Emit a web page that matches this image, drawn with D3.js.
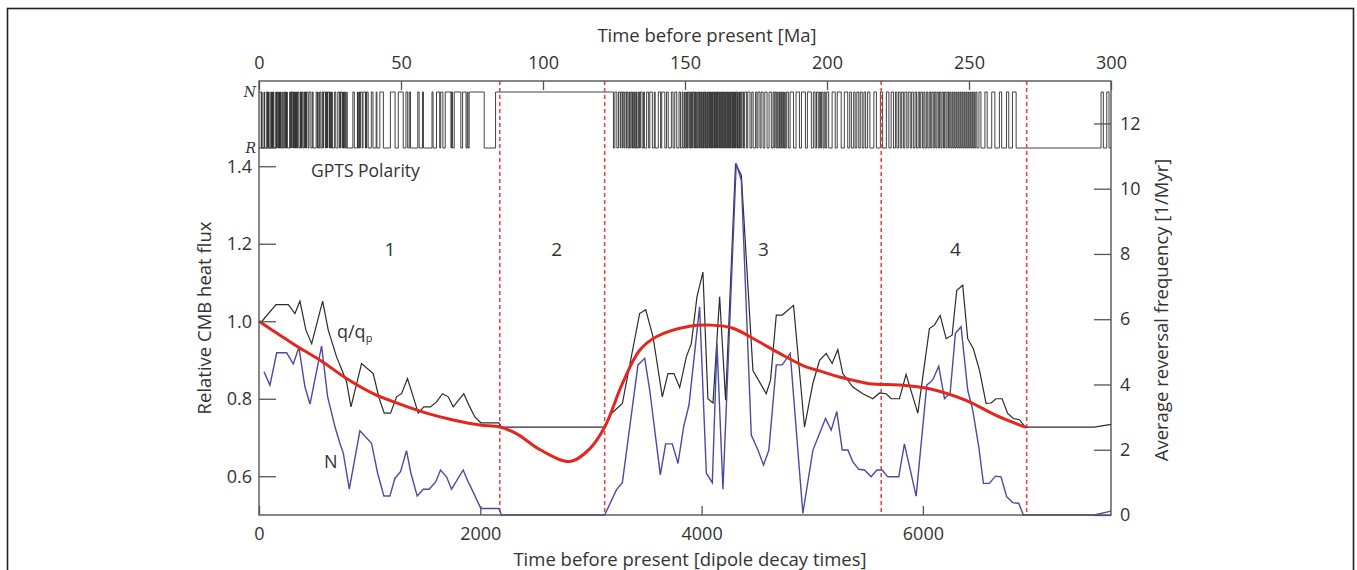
<!DOCTYPE html>
<html>
<head>
<meta charset="utf-8">
<script src="https://cdn.jsdelivr.net/npm/d3@7"></script>
<style>
  body { margin: 0; background: #fff; }
  svg text { font-family: "Open Sans", Lato, sans-serif; fill: #333; }
  .axis text { font-size: 18px; }
  .axis line { stroke: #555; stroke-width: 1.3; }
  .axis path { display: none; }
</style>
</head>
<body>
<div id="chart"></div>
<script>
// tick labels
const decayTicks = [0, 2000, 4000, 6000];
const maTicks = [0, 50, 100, 150, 200, 250, 300];
const heatTicks = [0.6, 0.8, 1.0, 1.2, 1.4];
const freqTicks = [0, 2, 4, 6, 8, 10, 12];

// period boundaries (dipole decay times) and region labels
const boundaries = [2176, 3124, 5623, 6938];
const regionNames = ["1", "2", "3", "4"];
const regionCentres = [1183, 2691, 4560, 6294];

// q/qp (black), time in dipole decay times
const qTime = [27, 154, 265, 325, 370, 424, 476, 575, 626, 701, 762, 792, 831, 927, 1032, 1087, 1132, 1189, 1243, 1288,
  1342, 1394, 1439, 1490, 1550, 1604, 1659, 1710, 1755, 1851, 1905, 1950, 2005, 2167, 2191, 3124, 3185, 3284, 3440, 3495,
  3561, 3645, 3696, 3750, 3802, 3862, 3907, 3958, 4012, 4057, 4103, 4163, 4217, 4307, 4359, 4464, 4584, 4623, 4675, 4729,
  4831, 4930, 5006, 5066, 5126, 5180, 5231, 5276, 5367, 5457, 5547, 5608, 5668, 5713, 5788, 5848, 5954, 6059, 6104, 6156,
  6210, 6264, 6306, 6360, 6405, 6456, 6511, 6571, 6616, 6661, 6716, 6766, 6818, 6872, 6926, 7549, 7700];
const qValue = [1.0, 1.043, 1.043, 1.02, 1.052, 0.977, 0.942, 1.052, 0.977, 0.908, 0.865, 0.843, 0.779, 0.891, 0.865, 0.80, 0.763, 0.763, 0.805, 0.813,
  0.852, 0.805, 0.763, 0.779, 0.779, 0.792, 0.813, 0.805, 0.779, 0.813, 0.779, 0.753, 0.738, 0.738, 0.727, 0.727, 0.762, 0.788, 1.02, 1.03,
  0.96, 0.805, 0.865, 0.865, 0.829, 0.908, 0.942, 1.063, 1.127, 0.80, 0.789, 1.063, 0.796, 1.407, 1.377, 0.873, 0.813, 0.848, 1.016, 1.016,
  1.041, 0.727, 0.84, 0.899, 0.917, 0.891, 0.927, 0.865, 0.830, 0.813, 0.80, 0.815, 0.813, 0.80, 0.80, 0.863, 0.763, 0.981, 0.990, 1.015,
  0.955, 0.964, 1.080, 1.093, 0.955, 0.929, 0.874, 0.788, 0.789, 0.80, 0.80, 0.762, 0.749, 0.746, 0.727, 0.727, 0.734];

// N, average reversal frequency [1/Myr] (blue)
const nTime = [45, 99, 160, 250, 310, 361, 415, 461, 566, 620, 686, 731, 762, 816, 912, 1017, 1072, 1129, 1183, 1228,
  1279, 1333, 1373, 1430, 1484, 1538, 1598, 1640, 1695, 1740, 1845, 1890, 1935, 2005, 2167, 2191, 3124, 3230, 3284, 3425,
  3486, 3531, 3627, 3675, 3735, 3787, 3838, 3886, 3982, 4043, 4097, 4139, 4193, 4313, 4359, 4449, 4509, 4560, 4608, 4675,
  4729, 4801, 4915, 5006, 5066, 5120, 5171, 5222, 5271, 5322, 5367, 5421, 5472, 5532, 5584, 5632, 5683, 5782, 5833, 5939,
  6035, 6089, 6143, 6195, 6246, 6294, 6345, 6405, 6450, 6505, 6547, 6601, 6655, 6706, 6757, 6811, 6866, 6908, 7549, 7700];
const nValue = [4.39, 3.98, 4.97, 4.97, 4.63, 5.14, 3.93, 3.40, 5.18, 3.63, 2.71, 2.20, 1.89, 0.79, 2.58, 2.20, 1.28, 0.58, 0.58, 1.12,
  1.33, 1.97, 1.28, 0.58, 0.79, 0.79, 1.02, 1.38, 1.17, 0.79, 1.38, 1.02, 0.71, 0.20, 0.20, 0, 0, 0.77, 0.99, 4.60,
  4.80, 3.83, 1.23, 2.18, 2.18, 1.58, 2.71, 3.37, 6.38, 1.28, 0.99, 5.26, 0.79, 10.77, 10.26, 2.45, 1.99, 1.53, 1.99, 4.60,
  4.60, 4.95, 0.05, 1.99, 2.50, 2.96, 2.60, 3.17, 1.99, 1.99, 1.63, 1.40, 1.38, 1.17, 1.38, 1.38, 1.17, 1.17, 2.18, 0.58,
  3.98, 4.14, 4.56, 3.57, 3.73, 5.57, 5.77, 3.83, 3.22, 2.09, 0.97, 0.97, 1.19, 1.17, 0.56, 0.38, 0.36, 0, 0, 0.12];

// smooth heat flux model (red)
const fitTime = [0, 190, 361, 566, 792, 1032, 1273, 1514, 1755, 1996, 2176, 2327, 2537, 2808, 2989, 3124, 3284, 3440, 3591, 3892,
  4088, 4284, 4494, 4705, 4945, 5066, 5245, 5367, 5517, 5818, 6059, 6390, 6661, 6932];
const fitValue = [1.0, 0.964, 0.932, 0.897, 0.852, 0.813, 0.786, 0.763, 0.745, 0.732, 0.727, 0.710, 0.669, 0.638, 0.671, 0.727, 0.839, 0.925, 0.96, 0.987,
  0.99, 0.982, 0.951, 0.917, 0.882, 0.872, 0.856, 0.848, 0.839, 0.835, 0.826, 0.796, 0.757, 0.726];

// GPTS polarity flips [Ma], normal polarity at 0 Ma
const polarityFlipsMa = [0.78, 0.99, 1.07, 1.77, 1.95, 2.58, 3.04, 3.11, 3.22, 3.33, 3.58, 4.18, 4.29, 4.48, 4.62, 4.80, 4.89, 4.98, 5.23,
  5.89, 6.14, 6.27, 6.57, 6.94, 7.09, 7.14, 7.17, 7.34, 7.38, 7.46, 7.65, 8.07, 8.23, 8.70, 9.03, 9.31, 9.58, 9.64, 9.74, 9.88, 9.92,
  10.83, 10.94, 11.05, 11.48, 11.53, 11.94, 12.08, 12.18, 12.40, 12.68, 12.71, 12.82, 12.99, 13.14, 13.30, 13.51, 13.70, 14.08,
  14.61, 14.80, 14.89, 15.03, 15.16, 15.55, 16.01, 16.29, 16.33, 16.49, 16.73, 17.28, 17.62, 18.28, 18.78, 19.05, 20.13, 20.52,
  20.73, 20.80, 21.32, 21.77, 22.27, 22.59, 22.69, 23.35, 23.54, 23.68, 23.80, 24.02, 24.12, 24.73, 24.78, 24.84, 25.18, 25.50,
  25.65, 25.82, 26.55, 27.03, 27.75, 28.28, 28.51, 28.75, 28.80, 29.40, 29.66, 29.77, 30.10, 30.48, 30.94, 31.02, 33.06, 33.55,
  34.66, 34.74, 34.78, 34.94, 35.34, 35.53, 35.69, 36.34, 36.62, 37.47, 37.60, 37.73, 37.92, 38.43, 39.55, 40.13, 41.26, 41.52,
  42.54, 43.79, 46.26, 47.91, 49.04, 50.78, 51.74, 52.36, 52.90, 53.35, 55.90, 56.39, 57.55, 57.91, 60.92, 61.28, 62.50, 63.63,
  63.98, 64.75, 65.58, 67.61, 67.74, 68.13, 68.74, 71.07, 71.69, 72.90, 73.30, 73.60, 74.00, 79.30, 83.30,
  124.8, 125.3, 126.0, 126.6, 127.2, 127.4, 127.9, 128.1, 128.5, 128.8, 129.3, 129.5, 129.9, 130.3, 130.5, 130.9, 131.3, 131.5,
  131.8, 132.2, 132.5, 132.9, 133.1, 133.6, 134.0, 134.3, 134.9, 135.4, 135.7, 136.5, 137.2, 137.6, 138.5, 139.2, 139.5, 140.6,
  141.4, 141.8, 142.9, 143.5, 144.1, 145.2, 145.8, 146.4, 147.1, 147.9, 148.4, 149.0, 149.3, 149.8, 150.1, 150.5, 150.8, 151.0,
  151.4, 151.7, 151.9, 152.3, 152.6, 152.8, 153.2, 153.4, 153.7, 154.1, 154.3, 154.6, 154.9, 155.1, 155.5, 155.8, 156.0, 156.3,
  156.5, 156.7, 157.0, 157.2, 157.4, 157.7, 157.9, 158.1, 158.4, 158.6, 158.8, 159.0, 159.3, 159.5, 159.7, 159.9, 160.2, 160.4,
  160.6, 160.8, 161.1, 161.3, 161.5, 161.7, 162.0, 162.2, 162.4, 162.6, 162.9, 163.1, 163.3, 163.5, 163.8, 164.0, 164.2, 164.4,
  164.7, 164.9, 165.1, 165.3, 165.6, 165.8, 166.0, 166.2, 166.5, 166.7, 166.9, 167.1, 167.4, 167.6, 167.8, 168.0, 168.3, 168.5,
  168.7, 169.0, 169.2, 169.5, 169.8, 170.1, 170.6, 171.0, 171.7, 172.1, 172.9, 173.5, 174.0, 174.8, 175.3, 175.7, 176.4, 176.8,
  177.5, 178.1, 178.9, 179.6, 180.4, 181.0, 181.4, 181.7, 182.1, 182.4, 182.7, 183.1, 183.3, 183.7, 184.0, 184.4, 184.7, 185.1,
  185.3, 185.8, 186.4, 187.0, 188.2, 189.1, 190.3, 191.0, 192.4, 193.1, 194.5, 195.2, 195.8, 196.3, 196.9, 197.3, 197.7, 198.1,
  198.6, 199.0, 199.4, 199.9, 200.6, 201.8, 202.9, 203.6, 205.0, 206.1, 207.3, 208.0, 208.6, 209.4, 209.9, 210.5, 211.2, 211.7,
  212.4, 213.0, 213.6, 214.3, 215.1, 216.5, 217.4, 218.8, 219.6, 220.9, 221.8, 222.6, 223.4, 224.1, 224.6, 225.2, 225.8, 226.3,
  226.9, 227.4, 228.1, 228.6, 229.3, 229.8, 230.4, 231.0, 231.5, 232.1, 232.6, 233.0, 233.6, 234.1, 234.5, 235.1, 235.5, 236.0,
  236.5, 236.9, 237.4, 237.8, 238.3, 238.7, 239.2, 239.6, 240.1, 240.5, 241.0, 241.4, 241.9, 242.3, 242.8, 243.2, 243.6, 244.0,
  244.3, 244.7, 245.0, 245.4, 245.7, 246.1, 246.4, 246.8, 247.1, 247.5, 247.8, 248.2, 248.5, 248.9, 249.2, 249.6, 249.9, 250.3,
  250.6, 251.0, 251.3, 251.7, 252.0, 252.4, 252.8, 253.5, 254.2, 255.6, 256.4, 258.0, 259.1, 260.7, 261.5, 263.2, 264.0, 265.3,
  266.6, 296.5, 297.3, 298.5, 299.3];

const width = 1357, height = 570;
const plot = { left: 259, right: 1111, top: 81, bottom: 515 };

const svg = d3.select("#chart").append("svg")
    .attr("width", width)
    .attr("height", height);

// outer figure frame
svg.append("rect")
    .attr("x", 7.5).attr("y", 8.5)
    .attr("width", 1346).attr("height", 580)
    .attr("fill", "none")
    .attr("stroke", "#222")
    .attr("stroke-width", 1.6);

const x = d3.scaleLinear().domain([0, 7700]).range([plot.left, plot.right]);
const xMa = d3.scaleLinear().domain([0, 300]).range([plot.left, plot.right]);
const yHeat = d3.scaleLinear().domain([0.5, 1.62]).range([plot.bottom, plot.top]);
const yFreq = d3.scaleLinear().domain([0, 13.3]).range([plot.bottom, plot.top]);
const yPol = d3.scaleOrdinal().domain(["N", "R"]).range([92, 148]);

// polarity record
let state = "N";
let polPath = `M${xMa(0)},${yPol(state)}`;
polarityFlipsMa.forEach(t => {
    state = state === "N" ? "R" : "N";
    polPath += `H${xMa(t)}V${yPol(state)}`;
});
polPath += `H${xMa(300)}`;
svg.append("path")
    .attr("d", polPath)
    .attr("fill", "none")
    .attr("stroke", "#2e2e2e")
    .attr("stroke-width", 0.9);

// dashed boundaries
svg.selectAll(".boundary")
    .data(boundaries)
    .enter()
    .append("line")
    .attr("class", "boundary")
    .attr("x1", d => x(d)).attr("x2", d => x(d))
    .attr("y1", plot.top).attr("y2", plot.bottom)
    .attr("stroke", "#e8474a")
    .attr("stroke-width", 1.6)
    .attr("stroke-dasharray", "4,3");

// data lines
const qLine = d3.line().x((d, i) => x(qTime[i])).y(d => yHeat(d));
svg.append("path")
    .attr("d", qLine(qValue))
    .attr("fill", "none")
    .attr("stroke", "#2b2b2b")
    .attr("stroke-width", 1.2);

const nLine = d3.line().x((d, i) => x(nTime[i])).y(d => yFreq(d));
svg.append("path")
    .attr("d", nLine(nValue))
    .attr("fill", "none")
    .attr("stroke", "#4b4aa6")
    .attr("stroke-width", 1.4);

const fitLine = d3.line()
    .x((d, i) => x(fitTime[i]))
    .y(d => yHeat(d))
    .curve(d3.curveCatmullRom.alpha(0.5));
svg.append("path")
    .attr("d", fitLine(fitValue))
    .attr("fill", "none")
    .attr("stroke", "#e4261c")
    .attr("stroke-width", 3);

// axes (ticks pointing inward)
const axisB = svg.append("g").attr("class", "axis")
    .attr("transform", `translate(0,${plot.bottom})`);
axisB.call(d3.axisBottom(x).tickValues(d3.range(500, 7700, 500)).tickSize(-5).tickFormat(""));
axisB.call(d3.axisBottom(x).tickValues(decayTicks).tickSize(-9).tickPadding(12).tickFormat(d3.format("d")));

const axisT = svg.append("g").attr("class", "axis")
    .attr("transform", `translate(0,${plot.top})`);
axisT.call(d3.axisTop(xMa).tickValues(d3.range(10, 300, 10)).tickSize(-5).tickFormat(""));
axisT.call(d3.axisTop(xMa).tickValues(maTicks).tickSize(-9).tickPadding(12).tickFormat(d3.format("d")));

const axisL = svg.append("g").attr("class", "axis")
    .attr("transform", `translate(${plot.left},0)`);
axisL.call(d3.axisLeft(yHeat).tickValues(d3.range(0.55, 1.46, 0.05)).tickSize(-8).tickFormat(""));
axisL.call(d3.axisLeft(yHeat).tickValues(heatTicks).tickSize(-17).tickPadding(7).tickFormat(d3.format(".1f")));

const axisR = svg.append("g").attr("class", "axis")
    .attr("transform", `translate(${plot.right},0)`);
axisR.call(d3.axisRight(yFreq).tickValues(d3.range(0.5, 13.1, 0.5)).tickSize(-8).tickFormat(""));
axisR.call(d3.axisRight(yFreq).tickValues(freqTicks).tickSize(-17).tickPadding(9).tickFormat(d3.format("d")));

// frame
svg.append("rect")
    .attr("x", plot.left).attr("y", plot.top)
    .attr("width", plot.right - plot.left)
    .attr("height", plot.bottom - plot.top)
    .attr("fill", "none")
    .attr("stroke", "#555")
    .attr("stroke-width", 1.4);

// polarity labels N / R
svg.append("line")
    .attr("x1", plot.left).attr("x2", plot.left + 17)
    .attr("y1", yPol("R")).attr("y2", yPol("R"))
    .attr("stroke", "#555").attr("stroke-width", 1.3);
svg.selectAll(".pol-label")
    .data(["N", "R"])
    .enter()
    .append("text")
    .attr("class", "pol-label")
    .attr("x", plot.left - 3)
    .attr("y", d => yPol(d) + 5)
    .attr("text-anchor", "end")
    .style("font-family", "'DejaVu Serif', serif")
    .style("font-style", "italic")
    .style("font-size", "14px")
    .text(d => d);

svg.append("text")
    .attr("x", 311).attr("y", 177)
    .style("font-size", "17.5px")
    .text("GPTS Polarity");

// region numbers
svg.selectAll(".region")
    .data(regionNames)
    .enter()
    .append("text")
    .attr("class", "region")
    .attr("x", (d, i) => x(regionCentres[i]))
    .attr("y", 256)
    .attr("text-anchor", "middle")
    .style("font-size", "19px")
    .text(d => d);

// curve labels
const qLabel = svg.append("text")
    .attr("x", 337).attr("y", 338)
    .style("font-size", "18px");
qLabel.append("tspan").text("q/q");
qLabel.append("tspan").attr("dy", 4).style("font-size", "11px").text("p");

svg.append("text")
    .attr("x", 324).attr("y", 468)
    .style("font-size", "18px")
    .text("N");

// axis titles
svg.append("text")
    .attr("x", 707).attr("y", 42)
    .attr("text-anchor", "middle")
    .style("font-size", "18.5px")
    .text("Time before present [Ma]");

svg.append("text")
    .attr("x", 690).attr("y", 566)
    .attr("text-anchor", "middle")
    .style("font-size", "18.5px")
    .text("Time before present [dipole decay times]");

svg.append("text")
    .attr("transform", "translate(211,318) rotate(-90)")
    .attr("text-anchor", "middle")
    .style("font-size", "18.5px")
    .text("Relative CMB heat flux");

svg.append("text")
    .attr("transform", "translate(1168,310) rotate(-90)")
    .attr("text-anchor", "middle")
    .style("font-size", "18.5px")
    .text("Average reversal frequency [1/Myr]");
</script>
</body>
</html>
